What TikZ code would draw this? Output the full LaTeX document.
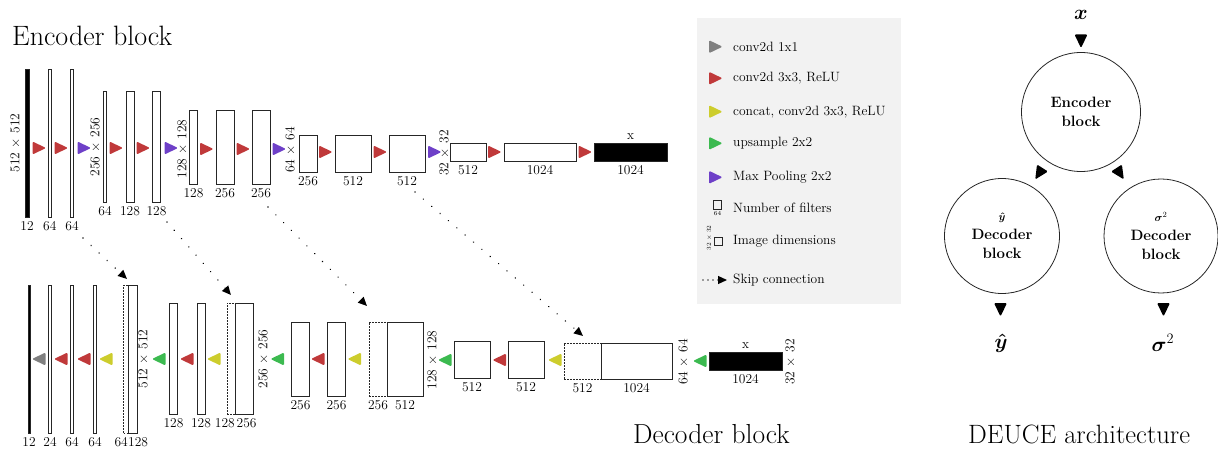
\documentclass[tikz,border=0pt]{standalone}
\usepackage{amsmath}
\usepackage{fontspec}
\usetikzlibrary{arrows.meta}
\definecolor{cred}{RGB}{192,57,58}
\definecolor{cpur}{RGB}{110,64,200}
\definecolor{cgry}{RGB}{128,128,128}
\definecolor{cyel}{RGB}{205,205,45}
\definecolor{cgrn}{RGB}{60,186,80}
\definecolor{legbg}{RGB}{242,242,242}
\newcommand{\labfont}{\fontsize{13.5}{15}\selectfont}
\newcommand{\titfont}{\fontsize{28}{32}\selectfont}
\newcommand{\cirfont}{\fontsize{15}{19}\selectfont\bfseries}
\newcommand{\tnyfont}{\fontsize{6}{7}\selectfont}
\newcommand{\mtri}[4]{\fill[#1, rounded corners=1.2pt, shift={(#2,#3)}, rotate=#4] (-6.5,-6.5) -- (7,0) -- (-6.5,6.5) -- cycle;}
\begin{document}
\begin{tikzpicture}[x=1pt,y=-1pt,
  bar/.style={rectangle, draw=black!85, line width=0.9pt, inner sep=0pt, outer sep=0pt, fill=white},
  dbar/.style={bar, dash pattern=on 1.6pt off 1.4pt},
  bbar/.style={bar, fill=black},
  lab/.style={font=\labfont, inner sep=0pt},
  lbl/.style={lab, anchor=north, yshift=-4pt},
  rlab/.style={lab, rotate=90},
  circ/.style={circle, draw=black!85, line width=0.8pt, align=center, font=\cirfont, inner sep=0pt},
  skip/.style={line width=1.5pt, dash pattern=on 0.01pt off 11pt, line cap=round, -{Triangle[length=9pt,width=8pt]}},
  ttl/.style={font=\titfont, inner sep=0pt, anchor=base west},
  outm/.style={font=\fontsize{21}{23}\selectfont, inner sep=0pt}
]
\useasboundingbox (0,0) rectangle (1218,449);

% ---------- Titles
\node[ttl] (tenc) at (12,46) {Encoder block};
\node[ttl, font=\fontsize{27.5}{32}\selectfont] (tdec) at (633,443) {Decoder block};
\node[ttl, font=\fontsize{26.5}{32}\selectfont] (tdeuce) at (968,443) {DEUCE architecture};

% ---------- Encoder bars
\node[bbar, minimum width=4pt,  minimum height=148pt] (e1)  at (27,143) {};
\node[bar,  minimum width=3.5pt, minimum height=148pt] (e2)  at (49.75,143) {};
\node[bar,  minimum width=3.5pt, minimum height=148pt] (e3)  at (72,143) {};
\node[bar,  minimum width=3.5pt, minimum height=111pt] (e4)  at (105,146.5) {};
\node[bar,  minimum width=8pt,  minimum height=111pt] (e5)  at (130,146.5) {};
\node[bar,  minimum width=8pt,  minimum height=111pt] (e6)  at (156.5,146.5) {};
\node[bar,  minimum width=8pt,  minimum height=74pt]  (e7)  at (193.5,147) {};
\node[bar,  minimum width=18pt, minimum height=74pt]  (e8)  at (225,147) {};
\node[bar,  minimum width=18pt, minimum height=74pt]  (e9)  at (261,147) {};
\node[bar,  minimum width=18pt, minimum height=37pt]  (e10) at (308,153.5) {};
\node[bar,  minimum width=36pt, minimum height=37pt]  (e11) at (353,153.5) {};
\node[bar,  minimum width=36pt, minimum height=37pt]  (e12) at (407,153.5) {};
\node[bar,  minimum width=36pt, minimum height=18pt]  (e13) at (468,152) {};
\node[bar,  minimum width=72pt, minimum height=18pt]  (e14) at (540,152) {};
\node[bbar, minimum width=73pt, minimum height=18pt]  (e15) at (630.5,152) {};

\node[lbl] (le1)  at (e1.south)  {12};
\node[lbl] (le2)  at (e2.south)  {64};
\node[lbl] (le3)  at (e3.south)  {64};
\node[lbl] (le4)  at (e4.south)  {64};
\node[lbl] (le5)  at (e5.south)  {128};
\node[lbl] (le6)  at (e6.south)  {128};
\node[lbl] (le7)  at (e7.south)  {128};
\node[lbl] (le8)  at (e8.south)  {256};
\node[lbl] (le9)  at (e9.south)  {256};
\node[lbl] (le10) at (e10.south) {256};
\node[lbl] (le11) at (e11.south) {512};
\node[lbl] (le12) at (e12.south) {512};
\node[lbl] (le13) at (e13.south) {512};
\node[lbl] (le14) at (e14.south) {1024};
\node[lbl] (le15) at (e15.south) {1024};
\node[lab, anchor=south, yshift=3pt] (lx1) at (e15.north) {x};

\node[rlab] (re1) at (15,143)  {512 × 512};
\node[rlab] (re2) at (95,147)  {256 × 256};
\node[rlab] (re3) at (182,149) {128 × 128};
\node[rlab] (re4) at (290,150) {64 × 64};
\node[rlab] (re5) at (444,153) {32 × 32};

% encoder operation markers
\mtri{cred}{39}{148}{0}
\mtri{cred}{61}{148}{0}
\mtri{cpur}{84}{148}{0}
\mtri{cred}{116}{148}{0}
\mtri{cred}{143}{148}{0}
\mtri{cpur}{171}{148}{0}
\mtri{cred}{206.5}{149}{0}
\mtri{cred}{243}{149}{0}
\mtri{cpur}{279}{149}{0}
\mtri{cred}{325.5}{152}{0}
\mtri{cred}{380}{152}{0}
\mtri{cpur}{434.5}{152}{0}
\mtri{cred}{494.5}{152}{0}
\mtri{cred}{585}{152}{0}

% ---------- Decoder bars
\node[bbar, minimum width=2pt,   minimum height=148pt] (d1)  at (29,359) {};
\node[bar,  minimum width=3.5pt, minimum height=148pt] (d2)  at (50,359) {};
\node[bar,  minimum width=3.5pt, minimum height=148pt] (d3)  at (72,359) {};
\node[bar,  minimum width=3.5pt, minimum height=148pt] (d4)  at (95,359) {};
\node[dbar, minimum width=4.5pt, minimum height=148pt] (d5)  at (125.75,359) {};
\node[bar,  minimum width=9pt,   minimum height=148pt] (d6)  at (132.5,359) {};
\node[bar,  minimum width=8.5pt, minimum height=111pt] (d7)  at (173.5,358.5) {};
\node[bar,  minimum width=8pt,   minimum height=111pt] (d8)  at (201,358.5) {};
\node[dbar, minimum width=8pt,   minimum height=111pt] (d9)  at (231,358.5) {};
\node[bar,  minimum width=18pt,  minimum height=111pt] (d10) at (244,358.5) {};
\node[bar,  minimum width=17.5pt,minimum height=74pt]  (d11) at (300.5,359) {};
\node[bar,  minimum width=17.5pt,minimum height=74pt]  (d12) at (336.5,359) {};
\node[dbar, minimum width=18pt,  minimum height=74pt]  (d13) at (378,359) {};
\node[bar,  minimum width=36pt,  minimum height=74pt]  (d14) at (405,359) {};
\node[bar,  minimum width=36pt,  minimum height=37pt]  (d15) at (472,359.5) {};
\node[bar,  minimum width=36pt,  minimum height=37pt]  (d16) at (526,359.5) {};
\node[dbar, minimum width=37pt,  minimum height=36pt]  (d17) at (582.5,361) {};
\node[bar,  minimum width=71pt,  minimum height=36pt]  (d18) at (636.5,361) {};
\node[bbar, minimum width=73pt,  minimum height=18pt]  (d19) at (745.5,361) {};

\node[lbl] (ld1)  at (d1.south)  {12};
\node[lbl] (ld2)  at (d2.south)  {24};
\node[lbl] (ld3)  at (d3.south)  {64};
\node[lbl] (ld4)  at (d4.south)  {64};
\node[lbl, anchor=north east] (ld5)  at (d5.south east) {64};
\node[lbl, anchor=north west] (ld6)  at (d6.south west) {128};
\node[lbl] (ld7)  at (d7.south)  {128};
\node[lbl] (ld8)  at (d8.south)  {128};
\node[lbl, anchor=north east] (ld9)  at (d9.south east) {128};
\node[lbl, anchor=north west, xshift=1.5pt] (ld10) at (d10.south west) {256};
\node[lbl] (ld11) at (d11.south) {256};
\node[lbl] (ld12) at (d12.south) {256};
\node[lbl] (ld13) at (d13.south) {256};
\node[lbl] (ld14) at (d14.south) {512};
\node[lbl] (ld15) at (d15.south) {512};
\node[lbl] (ld16) at (d16.south) {512};
\node[lbl] (ld17) at (d17.south) {512};
\node[lbl] (ld18) at (d18.south) {1024};
\node[lbl] (ld19) at (d19.south) {1024};
\node[lab, anchor=south, yshift=3pt] (lx2) at (d19.north) {x};

\node[rlab] (rd1) at (143,359) {512 × 512};
\node[rlab] (rd2) at (263,359) {256 × 256};
\node[rlab] (rd3) at (432,360) {128 × 128};
\node[rlab] (rd4) at (683,362) {64 × 64};
\node[rlab] (rd5) at (790,362) {32 × 32};

% decoder operation markers (pointing left)
\mtri{cgry}{39}{359}{180}
\mtri{cred}{61}{359}{180}
\mtri{cred}{84}{359}{180}
\mtri{cyel}{106}{359}{180}
\mtri{cgrn}{159}{359}{180}
\mtri{cred}{187}{359}{180}
\mtri{cyel}{214}{359}{180}
\mtri{cgrn}{277.5}{359}{180}
\mtri{cred}{318}{359}{180}
\mtri{cyel}{354.5}{359}{180}
\mtri{cgrn}{445}{360}{180}
\mtri{cred}{499.5}{360}{180}
\mtri{cyel}{555}{360}{180}
\mtri{cgrn}{700}{361}{180}

% ---------- Skip connections
\coordinate (s1a) at (83,238);   \coordinate (s1b) at (127,279);
\coordinate (s2a) at (167,222);  \coordinate (s2b) at (231,295);
\coordinate (s3a) at (268,207);  \coordinate (s3b) at (367,306);
\coordinate (s4a) at (415,192);  \coordinate (s4b) at (583,336);
\draw[skip] (s1a) -- (s1b);
\draw[skip] (s2a) -- (s2b);
\draw[skip] (s3a) -- (s3b);
\draw[skip] (s4a) -- (s4b);

% ---------- Legend
\node[rectangle, fill=legbg, minimum width=204pt, minimum height=286pt, inner sep=0pt] (leg) at (799,161) {};
\mtri{cgry}{715.5}{46.7}{0}
\mtri{cred}{715.5}{78.3}{0}
\mtri{cyel}{715.5}{111.7}{0}
\mtri{cgrn}{715.5}{143.3}{0}
\mtri{cpur}{715.5}{177.3}{0}
\node[lab, anchor=west] (g1) at (733,47)  {conv2d 1x1};
\node[lab, anchor=west] (g2) at (733,78.5)  {conv2d 3x3, ReLU};
\node[lab, anchor=west] (g3) at (733,112) {concat, conv2d 3x3, ReLU};
\node[lab, anchor=west] (g4) at (733,143.5) {upsample 2x2};
\node[lab, anchor=west] (g5) at (733,177.5) {Max Pooling 2x2};
\node[bar, fill=none, line width=0.7pt, minimum size=8.5pt] (gsq1) at (717.5,205) {};
\node[font=\tnyfont, inner sep=0pt, anchor=north, yshift=-1.5pt] (gsl1) at (gsq1.south) {64};
\node[lab, anchor=west] (g6) at (733,208) {Number of filters};
\node[bar, fill=none, line width=0.7pt, minimum size=8pt] (gsq2) at (718,241) {};
\node[font=\tnyfont, inner sep=0pt, rotate=90] (gsl2) at (709,238) {32 × 32};
\node[lab, anchor=west] (g7) at (733,241) {Image dimensions};
\coordinate (gka) at (703,280); \coordinate (gkb) at (727,280);
\draw[skip, line width=1.2pt, dash pattern=on 0.01pt off 5pt] (gka) -- (gkb);
\node[lab, anchor=west] (g8) at (733,280) {Skip connection};

% ---------- DEUCE architecture
\node[outm] (xin) at (1081,15) {$\boldsymbol{x}$};
\node[circ, minimum size=119pt] (enc) at (1081,112) {Encoder\\block};
\node[circ, minimum size=115pt] (dy) at (1002,236) {{\fontsize{11}{12}\selectfont$\boldsymbol{\hat{y}}$}\\Decoder\\block};
\node[circ, minimum size=114pt] (ds) at (1161,236) {{\fontsize{11}{12}\selectfont$\boldsymbol{\sigma}^2$}\\Decoder\\block};
\node[outm] (yout) at (1001,343) {$\boldsymbol{\hat{y}}$};
\node[outm] (sout) at (1163,343) {$\boldsymbol{\sigma}^2$};
\mtri{black}{1081}{41}{-90}
\mtri{black}{1039}{173.5}{237.5}
\mtri{black}{1120}{173.5}{-57}
\mtri{black}{1000.5}{309.5}{-90}
\mtri{black}{1163.5}{309.5}{-90}
\end{tikzpicture}
\end{document}
